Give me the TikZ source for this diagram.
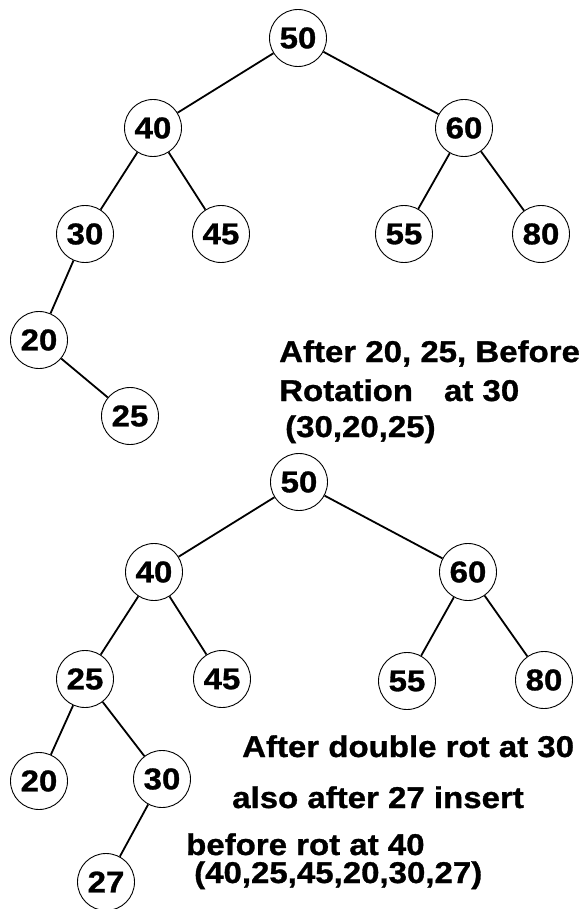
\documentclass[tikz,border=0pt]{standalone}
\usepackage{fontspec}
\setmainfont{Liberation Sans}[FakeStretch=1.1]
\newfontfamily\heavyfont{Liberation Sans Bold}[FakeStretch=1.1,FakeBold=1]
\begin{document}
\begin{tikzpicture}[x=1pt,y=-1pt,
  bnode/.style={circle,draw,line width=0.9pt,minimum size=57pt,inner sep=0pt,
    font=\fontsize{30}{32}\heavyfont},
  edge/.style={line width=1.8pt},
  lbl/.style={anchor=base west,inner sep=0pt,
    font=\fontsize{30}{32}\heavyfont}]
\useasboundingbox (0,0) rectangle (585,909);
% top tree
\node[bnode] (t50) at (298,38) {50};
\node[bnode] (t40) at (153,128) {40};
\node[bnode] (t60) at (464,128) {60};
\node[bnode] (t30) at (85,234) {30};
\node[bnode] (t45) at (221,234) {45};
\node[bnode] (t55) at (404,234) {55};
\node[bnode] (t80) at (541,234) {80};
\node[bnode] (t20) at (39,340) {20};
\node[bnode] (t25) at (130,416) {25};
\draw[edge] (t50) -- (t40);
\draw[edge] (t50) -- (t60);
\draw[edge] (t40) -- (t30);
\draw[edge] (t40) -- (t45);
\draw[edge] (t60) -- (t55);
\draw[edge] (t60) -- (t80);
\draw[edge] (t30) -- (t20);
\draw[edge] (t20) -- (t25);
% upper caption
\node[lbl] (c1) at (279,362) {After 20, 25, Before};
\node[lbl] (c2) at (279,401) {Rotation\hspace{31pt}at 30};
\node[lbl] (c3) at (285,437) {(30,20,25)};
% bottom tree
\node[bnode] (b50) at (299,482) {50};
\node[bnode] (b40) at (154,572) {40};
\node[bnode] (b60) at (468,572) {60};
\node[bnode] (b25) at (85,679) {25};
\node[bnode] (b45) at (222,679) {45};
\node[bnode] (b55) at (407,681) {55};
\node[bnode] (b80) at (544,680) {80};
\node[bnode] (b20) at (39,781) {20};
\node[bnode] (b30) at (162,779) {30};
\node[bnode] (b27) at (106,882) {27};
\draw[edge] (b50) -- (b40);
\draw[edge] (b50) -- (b60);
\draw[edge] (b40) -- (b25);
\draw[edge] (b40) -- (b45);
\draw[edge] (b60) -- (b55);
\draw[edge] (b60) -- (b80);
\draw[edge] (b25) -- (b20);
\draw[edge] (b25) -- (b30);
\draw[edge] (b30) -- (b27);
% lower caption
\node[lbl] (d1) at (242,757) {After double rot at 30};
\node[lbl] (d2) at (232,808) {also after 27 insert};
\node[lbl] (d3) at (186,855) {before rot at 40};
\node[lbl] (d4) at (194,883) {(40,25,45,20,30,27)};
\end{tikzpicture}
\end{document}
